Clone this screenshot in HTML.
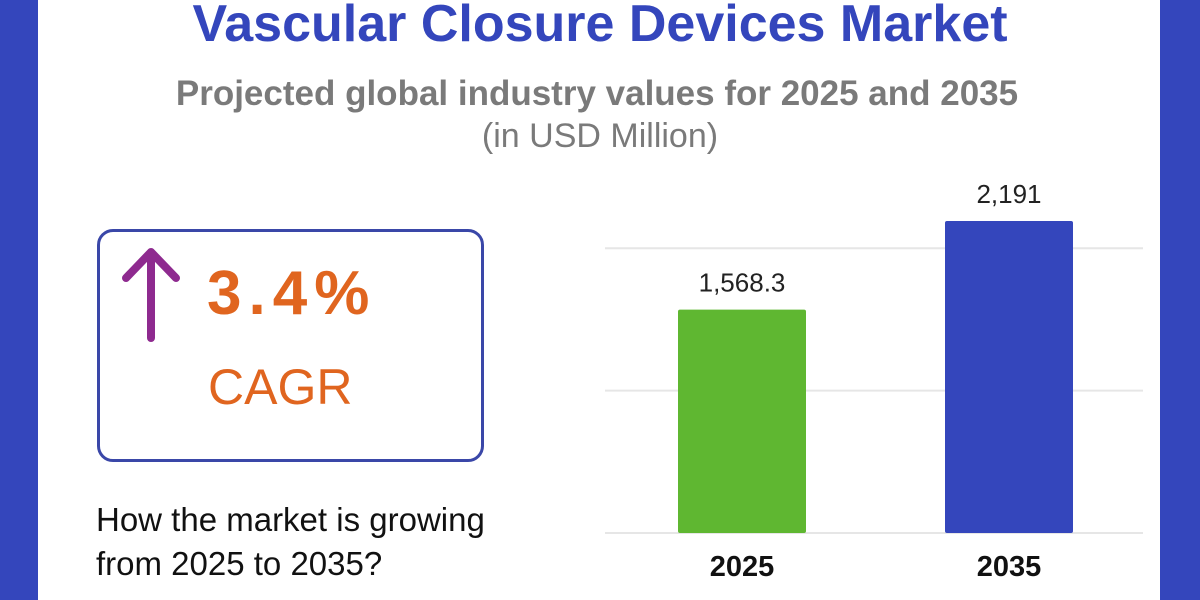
<!DOCTYPE html>
<html><head><meta charset="utf-8"><style>
body{margin:0;width:1200px;height:600px;overflow:hidden;background:#3446bc;font-family:"Liberation Sans",sans-serif;}
#panel{position:absolute;left:38px;top:0;width:1122px;height:600px;background:#fff;}
.t{position:absolute;white-space:nowrap;}
</style></head><body>
<div id="panel"></div>
<div class="t" style="left:0;width:1200px;text-align:center;top:-6px;font-size:52px;font-weight:bold;color:#3446bc;">Vascular Closure Devices Market</div>
<div class="t" style="left:0;width:1194px;text-align:center;top:74px;font-size:35px;font-weight:bold;color:#7a7a7a;">Projected global industry values for 2025 and 2035</div>
<div class="t" style="left:0;width:1200px;text-align:center;top:117px;font-size:34px;color:#7a7a7a;">(in USD Million)</div>
<div style="position:absolute;left:97px;top:229px;width:381px;height:227px;border:3px solid #3a47a8;border-radius:16px;"></div>
<svg style="position:absolute;left:118px;top:244px" width="66" height="100"><path d="M33 94 V8 M8 34 L33 8 L58 34" stroke="#8e2a8f" stroke-width="8" fill="none" stroke-linecap="round" stroke-linejoin="round"/></svg>
<div class="t" style="left:207px;top:258px;font-size:62px;font-weight:bold;color:#e0651f;letter-spacing:7px;">3.4%</div>
<div class="t" style="left:208px;top:358px;font-size:50px;color:#e0651f;">CAGR</div>
<div class="t" style="left:96px;top:498px;font-size:33px;line-height:44px;color:#111;">How the market is growing<br>from 2025 to 2035?</div>
<svg id="chart" style="position:absolute;left:0;top:0" width="1200" height="600"></svg>
<script>
const categories=["2025","2035"];
const values=[1568.3,2191];
const valueLabels=["1,568.3","2,191"];
const gridValues=[0,1000,2000];
const colors=["#5fb731","#3446bc"];
const svg=document.getElementById('chart');const NS='http://www.w3.org/2000/svg';
const y0=533,pxPer=312/2191;
function y(v){return y0-v*pxPer;}
function x(i){return 678+i*267;}
const bw=128;
function mk(t,a){const e=document.createElementNS(NS,t);for(const k in a)e.setAttribute(k,a[k]);svg.appendChild(e);return e;}
gridValues.forEach(g=>{
const l=mk('line',{x1:605,x2:1143,y1:y(g),y2:y(g),stroke:'#e6e6e6','stroke-width':2});


});
values.forEach((v,i)=>{
const r=mk('rect',{x:x(i),y:y(v),width:bw,height:y0-y(v),fill:colors[i],rx:2});


const t=mk('text',{x:x(i)+bw/2,y:y(v)-18,'text-anchor':'middle','font-size':26,fill:'#222','font-family':'Liberation Sans, sans-serif'});
t.textContent=valueLabels[i];


const c=mk('text',{x:x(i)+bw/2,y:576,'text-anchor':'middle','font-size':29,'font-weight':'bold',fill:'#111','font-family':'Liberation Sans, sans-serif'});
c.textContent=categories[i];


});
</script>
</body></html>
